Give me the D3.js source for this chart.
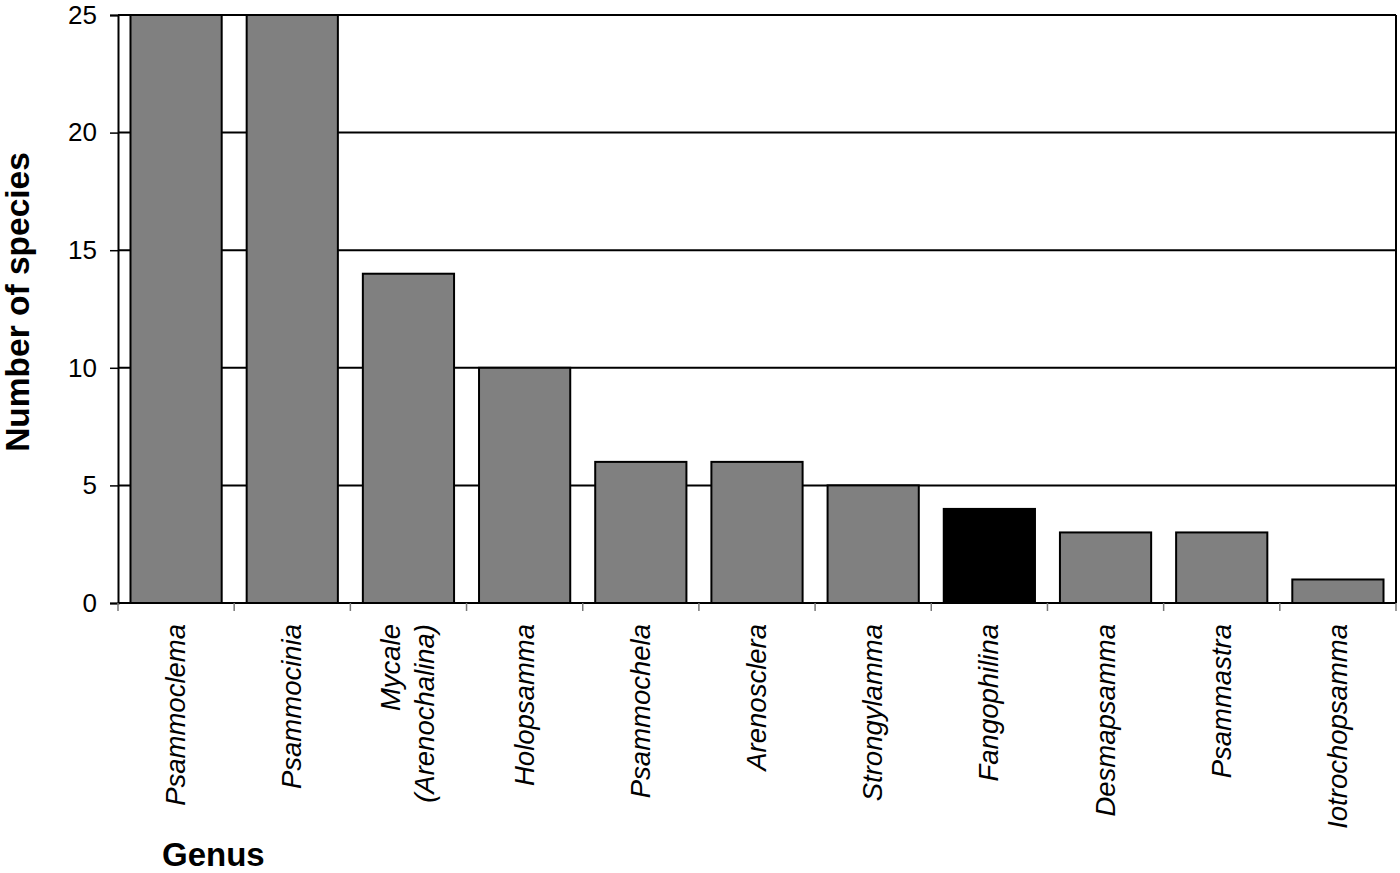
<!DOCTYPE html>
<html><head><meta charset="utf-8">
<script src="https://cdn.jsdelivr.net/npm/d3@7"></script>
<style>body{margin:0;background:#fff}svg{display:block}text{font-family:Arial,"Liberation Sans",sans-serif}</style>
</head><body><svg id="c" width="1400" height="873"></svg>
<script>
const categories = ["Psammoclema","Psammocinia","Mycale|(Arenochalina)","Holopsamma","Psammochela","Arenosclera","Strongylamma","Fangophilina","Desmapsamma","Psammastra","Iotrochopsamma"];
const values = [25,25,14,10,6,6,5,4,3,3,1];
const highlight = ["Fangophilina"];
const yTicks = [0,5,10,15,20,25];

const svg = d3.select("#c");
const L=118,R=1396,T=15,B=603;
const x = d3.scaleBand().domain(categories).range([L,R]).paddingInner(0.215).paddingOuter(0.1075);
const xb = d3.scaleLinear().domain([0,categories.length]).range([L,R]);
const y = d3.scaleLinear().domain([0,25]).range([B,T]);

// gridlines
svg.append("g").selectAll("line").data(yTicks.filter(d=>d>0)).join("line")
  .attr("x1",L).attr("x2",R).attr("y1",d=>y(d)).attr("y2",d=>y(d))
  .attr("stroke","#000").attr("stroke-width",2);
// right border
svg.append("line").attr("x1",R).attr("x2",R).attr("y1",T).attr("y2",B).attr("stroke","#000").attr("stroke-width",2);

// bars
svg.append("g").selectAll("rect").data(categories).join("rect")
  .attr("x",d=>x(d)).attr("width",x.bandwidth())
  .attr("y",(d,i)=>y(values[i])).attr("height",(d,i)=>B-y(values[i]))
  .attr("fill",d=>highlight.includes(d)?"#000":"#808080")
  .attr("stroke","#000").attr("stroke-width",2);

// y axis
const ya = svg.append("g").attr("transform",`translate(${L},0)`)
  .call(d3.axisLeft(y).tickValues(yTicks).tickSize(8).tickPadding(13));
ya.select(".domain").attr("stroke","#000").attr("stroke-width",2);
ya.selectAll(".tick line").attr("stroke","#000").attr("stroke-width",1.5);
ya.selectAll(".tick text").attr("font-size",26).attr("fill","#000").style("font-family","Arial,'Liberation Sans',sans-serif");

// x axis
const xg = svg.append("g");
xg.append("line").attr("x1",L).attr("x2",R).attr("y1",B).attr("y2",B).attr("stroke","#000").attr("stroke-width",2);
xg.selectAll("line.t").data(d3.range(categories.length+1)).join("line").attr("class","t")
  .attr("x1",d=>xb(d)).attr("x2",d=>xb(d)).attr("y1",B).attr("y2",B+8)
  .attr("stroke","#777").attr("stroke-width",1.5);

// x labels
categories.forEach((c)=>{
  const lines=c.split("|");
  const cx = x(c)+x.bandwidth()/2;
  const n=lines.length, lh=34;
  lines.forEach((t,j)=>{
    const off=(j-(n-1)/2)*lh;
    svg.append("text").attr("transform",`translate(${cx+off+9},${624}) rotate(-90)`)
      .attr("text-anchor","end").attr("font-size",27.5).attr("font-style","italic").text(t);
  });
});

svg.append("text").attr("transform","translate(29,302) rotate(-90)").attr("text-anchor","middle")
  .attr("font-size",33.5).attr("font-weight","bold").text("Number of species");
svg.append("text").attr("x",162).attr("y",866).attr("font-size",33).attr("font-weight","bold").text("Genus");
</script></body></html>
